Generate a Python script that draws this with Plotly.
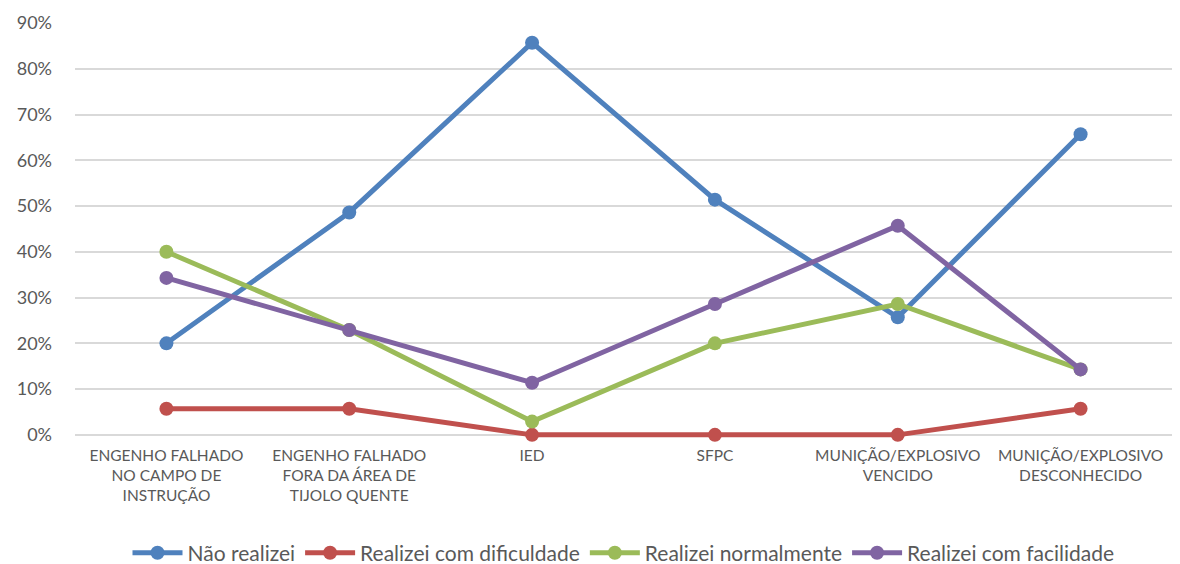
import plotly.graph_objects as go

categories = [
    "ENGENHO FALHADO<br>NO CAMPO DE<br>INSTRUÇÃO",
    "ENGENHO FALHADO<br>FORA DA ÁREA DE<br>TIJOLO QUENTE",
    "IED",
    "SFPC",
    "MUNIÇÃO/EXPLOSIVO<br>VENCIDO",
    "MUNIÇÃO/EXPLOSIVO<br>DESCONHECIDO",
]

nao_realizei = [0.200, 0.486, 0.857, 0.514, 0.257, 0.657]
com_dificuldade = [0.057, 0.057, 0.0, 0.0, 0.0, 0.057]
normalmente = [0.400, 0.229, 0.029, 0.200, 0.286, 0.143]
com_facilidade = [0.343, 0.229, 0.114, 0.286, 0.457, 0.143]

series = [
    ("Não realizei", nao_realizei, "#4F81BD"),
    ("Realizei com dificuldade", com_dificuldade, "#C0504D"),
    ("Realizei normalmente", normalmente, "#9BBB59"),
    ("Realizei com facilidade", com_facilidade, "#8064A2"),
]

y_ticks = [0, 0.1, 0.2, 0.3, 0.4, 0.5, 0.6, 0.7, 0.8, 0.9]

FONT = "Lato, 'Open Sans', sans-serif"

fig = go.Figure()
for name, values, color in series:
    fig.add_trace(go.Scatter(
        x=categories,
        y=values,
        name=name,
        mode="lines+markers",
        line=dict(color=color, width=5),
        marker=dict(color=color, size=14),
        cliponaxis=False,
    ))

fig.update_layout(
    width=1180,
    height=564,
    margin=dict(l=75, r=8, t=23, b=120, autoexpand=False),
    paper_bgcolor="white",
    plot_bgcolor="white",
    font=dict(family=FONT, color="#595959"),
    xaxis=dict(
        type="category",
        range=[-0.5, 5.5],
        showgrid=False,
        showline=False,
        ticks="",
        tickfont=dict(size=15.5, color="#595959"),
        fixedrange=True,
    ),
    yaxis=dict(
        range=[-0.02, 0.9],
        tickvals=y_ticks,
        tickformat=".0%",
        showgrid=True,
        gridcolor="#d9d9d9",
        gridwidth=1.5,
        zeroline=False,
        ticks="",
        ticklabelstandoff=22,
        tickfont=dict(size=18, color="#595959"),
        fixedrange=True,
    ),
    legend=dict(
        orientation="h",
        x=0.5,
        xanchor="center",
        y=-0.259,
        yanchor="middle",
        font=dict(size=21, color="#595959"),
        itemwidth=50,
        bgcolor="rgba(0,0,0,0)",
    ),
)

fig.write_html("out.html")
